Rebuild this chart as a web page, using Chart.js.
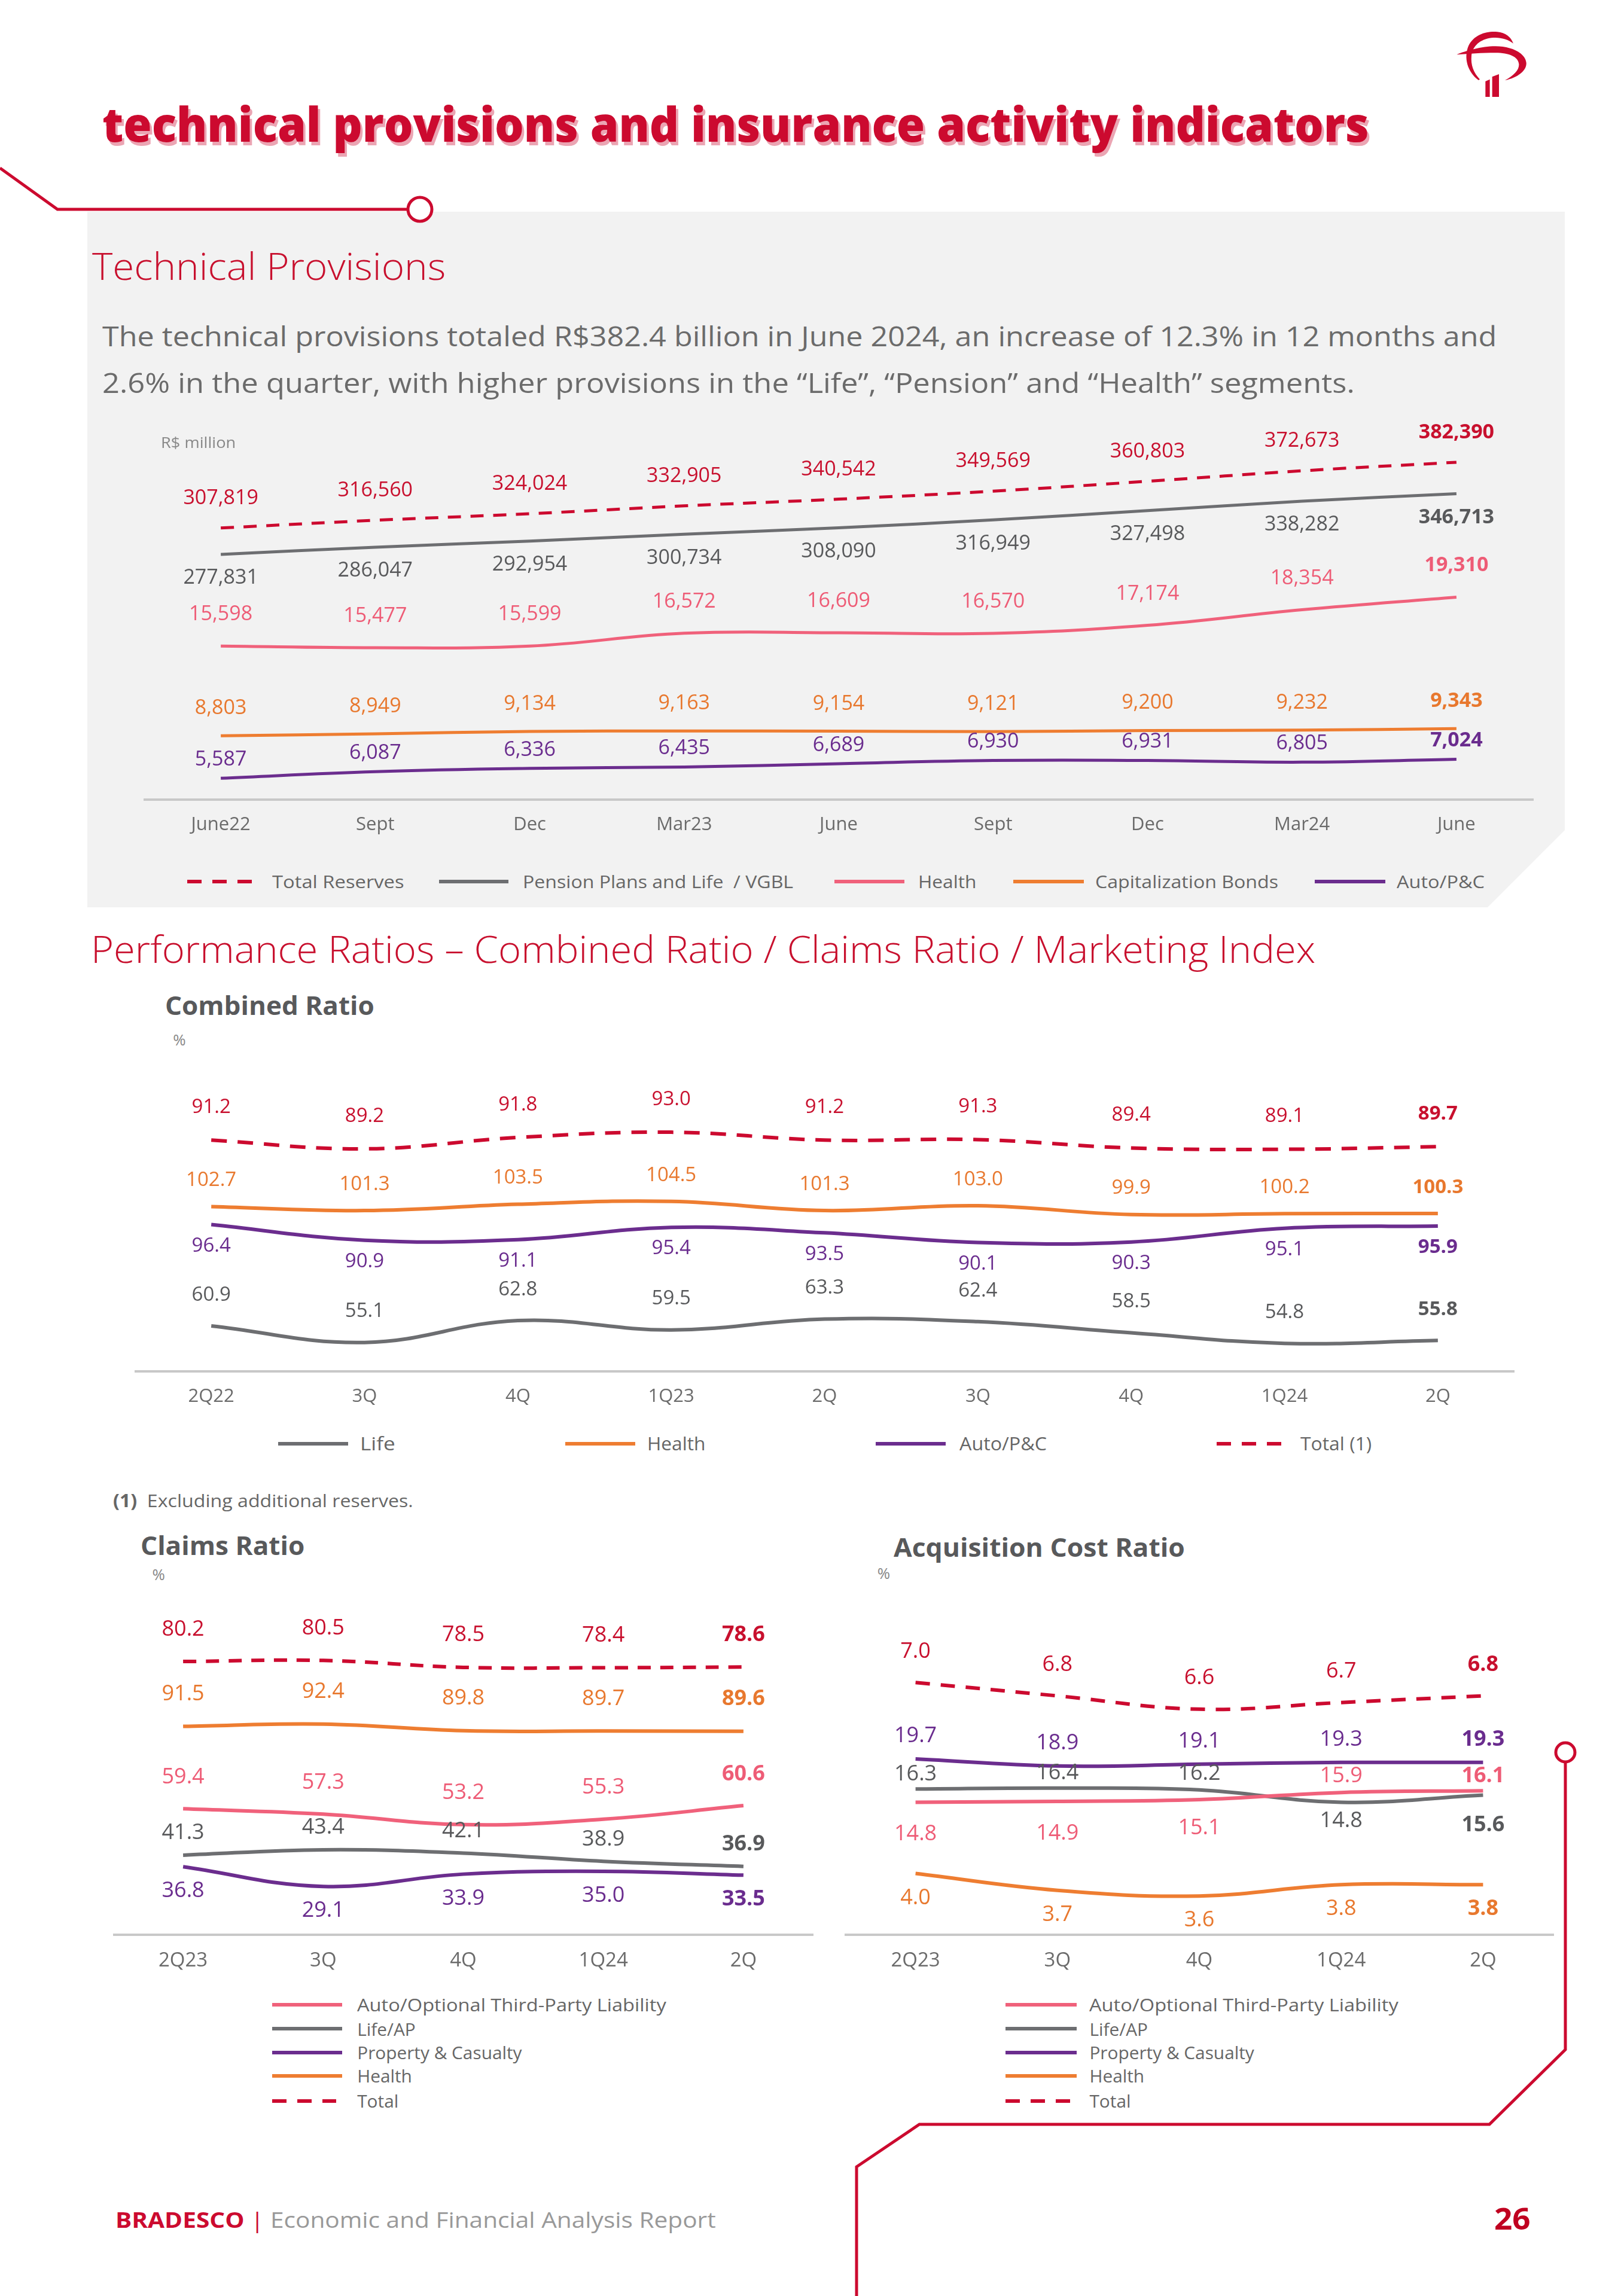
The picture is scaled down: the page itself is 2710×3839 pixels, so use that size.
<!DOCTYPE html>
<html>
<head>
<meta charset="utf-8">
<script src="https://cdn.jsdelivr.net/npm/chart.js@4.4.1/dist/chart.umd.min.js"></script>
<style>
  html, body { margin: 0; padding: 0; }
  body { width: 2710px; height: 3839px; position: relative; background: #fff; overflow: hidden;
         font-family: 'Open Sans', 'Noto Sans', sans-serif; }
  .t { position: absolute; white-space: nowrap; line-height: 1.2; transform-origin: 0 50%; color: #666; }
  canvas { position: absolute; }
  .sw { position: absolute; }
</style>
</head>
<body>
<svg id="deco" width="2710" height="3839" style="position:absolute;left:0;top:0">
  <polygon points="146,354 2616,354 2616,1388 2487,1517 146,1517" fill="#F2F2F2"/>
  <polyline points="0,281 96,350 682,350" fill="none" stroke="#CC0A2F" stroke-width="5"/>
  <circle cx="702" cy="350" r="20" fill="#fff" stroke="#CC0A2F" stroke-width="5"/>
  <polyline points="2617,2946 2617,3427 2490,3552 1537,3552 1432,3623 1432,3845" fill="none" stroke="#CC0A2F" stroke-width="5"/>
  <circle cx="2617" cy="2930" r="16" fill="#fff" stroke="#CC0A2F" stroke-width="5"/>
</svg>
<svg width="200" height="180" viewBox="0 0 600 540" style="position:absolute;left:2400px;top:20px">
  <g fill="#CC0A2F">
    <path d="M215,342 C160,300 140,230 165,170 C195,110 260,95 310,100 C350,104 378,125 390,158 C360,135 320,125 280,130 C225,137 185,170 180,220 C176,265 190,305 222,338 Z"/>
    <path d="M106,214 C150,195 230,172 300,172 C380,172 450,205 455,255 C458,295 410,330 348,343 C395,318 420,290 418,262 C415,225 370,205 300,205 C230,205 170,210 106,214 Z"/>
    <path d="M250,348 L272,338 L272,426 L250,426 Z"/>
    <path d="M284,325 L318,312 L318,426 L284,426 Z"/>
  </g>
</svg>

<canvas id="provChart"></canvas>
<canvas id="combChart"></canvas>
<canvas id="claimsChart"></canvas>
<canvas id="acqChart"></canvas>

<script>
// ---- data ----
const provPeriods = ['June22', 'Sept', 'Dec', 'Mar23', 'June', 'Sept', 'Dec', 'Mar24', 'June'];
const totalReserves = [307819, 316560, 324024, 332905, 340542, 349569, 360803, 372673, 382390];
const pensionLife = [277831, 286047, 292954, 300734, 308090, 316949, 327498, 338282, 346713];
const healthProv = [15598, 15477, 15599, 16572, 16609, 16570, 17174, 18354, 19310];
const capBonds = [8803, 8949, 9134, 9163, 9154, 9121, 9200, 9232, 9343];
const autoProv = [5587, 6087, 6336, 6435, 6689, 6930, 6931, 6805, 7024];

const combQuarters = ['2Q22', '3Q', '4Q', '1Q23', '2Q', '3Q', '4Q', '1Q24', '2Q'];
const combTotal = [91.2, 89.2, 91.8, 93.0, 91.2, 91.3, 89.4, 89.1, 89.7];
const combHealth = [102.7, 101.3, 103.5, 104.5, 101.3, 103.0, 99.9, 100.2, 100.3];
const combAuto = [96.4, 90.9, 91.1, 95.4, 93.5, 90.1, 90.3, 95.1, 95.9];
const combLife = [60.9, 55.1, 62.8, 59.5, 63.3, 62.4, 58.5, 54.8, 55.8];

const ratioQuarters = ['2Q23', '3Q', '4Q', '1Q24', '2Q'];
const claimsTotal = [80.2, 80.5, 78.5, 78.4, 78.6];
const claimsHealth = [91.5, 92.4, 89.8, 89.7, 89.6];
const claimsAuto = [59.4, 57.3, 53.2, 55.3, 60.6];
const claimsLife = [41.3, 43.4, 42.1, 38.9, 36.9];
const claimsPC = [36.8, 29.1, 33.9, 35.0, 33.5];

const acqTotal = [7.0, 6.8, 6.6, 6.7, 6.8];
const acqPC = [19.7, 18.9, 19.1, 19.3, 19.3];
const acqLife = [16.3, 16.4, 16.2, 14.8, 15.6];
const acqAuto = [14.8, 14.9, 15.1, 15.9, 16.1];
const acqHealth = [4.0, 3.7, 3.6, 3.8, 3.8];

// ---- colours ----
const RED = '#CC0A2F', GRAY = '#6D6E71', PINK = '#F0617B', ORANGE = '#EE7D31', PURPLE = '#6B2D8E';
const RED_T = '#C8102E', GRAY_T = '#58595B', PINK_T = '#EE5C76', ORANGE_T = '#E8782E', PURPLE_T = '#6A2C8E';

// layout measurements were taken on a slightly larger grid; K brings them to page pixels
const K = 0.9937;
const AXIS_H = 80 * K;

Chart.defaults.font.family = "'Open Sans', 'Noto Sans', sans-serif";

// value labels drawn next to every point
const valueLabels = {
    id: 'valueLabels',
    afterDatasetsDraw(chart, args, opts) {
        const ctx = chart.ctx;
        chart.data.datasets.forEach((ds, i) => {
            const meta = chart.getDatasetMeta(i);
            ctx.save();
            ctx.fillStyle = ds.labelColor;
            ctx.textAlign = 'center';
            ctx.textBaseline = 'middle';
            meta.data.forEach((pt, j) => {
                const last = j === meta.data.length - 1;
                ctx.font = (last ? '700 ' : '400 ') + opts.size + "px 'Open Sans', sans-serif";
                const off = Array.isArray(ds.labelOffset) ? ds.labelOffset[j] : ds.labelOffset;
                ctx.fillText(opts.format(ds.data[j]), pt.x, pt.y + off * K);
            });
            ctx.restore();
        });
    }
};

function series(label, data, color, axis, labelColor, labelOffset, width, dash) {
    return {
        label, data, yAxisID: axis,
        borderColor: color, borderWidth: width,
        borderDash: dash || [], borderCapStyle: 'butt',
        tension: 0.4, pointRadius: 0, fill: false,
        labelColor, labelOffset
    };
}

function hiddenAxis(min, max) {
    return { display: false, min, max };
}

function xAxis(fontSize) {
    return {
        type: 'category', offset: true,
        grid: { display: false, drawTicks: false },
        border: { display: true, color: '#C8C8C8', width: 4 },
        ticks: { color: '#6B6B6B', font: { size: fontSize }, padding: 24 * K, maxRotation: 0, autoSkip: false },
        afterFit: (scale) => { scale.height = AXIS_H; }
    };
}

// left/right = x-axis extent, top = plot top, bottom = x-axis line (pre-K units)
function makeChart(id, box, labels, datasets, yScales, tickSize, labelSize, format) {
    const cv = document.getElementById(id);
    const w = Math.round((box.right - box.left) * K);
    const h = Math.round((box.bottom - box.top) * K + AXIS_H);
    cv.width = w; cv.height = h;
    cv.style.left = Math.round(box.left * K) + 'px';
    cv.style.top = Math.round(box.top * K) + 'px';
    return new Chart(cv.getContext('2d'), {
        type: 'line',
        data: { labels, datasets },
        options: {
            responsive: false, animation: false, devicePixelRatio: 1,
            layout: { padding: 0 },
            scales: Object.assign({ x: xAxis(tickSize) }, yScales),
            plugins: {
                legend: { display: false },
                tooltip: { enabled: false },
                valueLabels: { size: labelSize, format }
            }
        },
        plugins: [valueLabels]
    });
}

const fmtInt = v => v.toLocaleString('en-US');
const fmt1 = v => v.toFixed(1);

// Technical provisions: large and small series on two scales
makeChart('provChart', { left: 242, right: 2581, top: 694.4, bottom: 1345.5 }, provPeriods, [
    series('Total Reserves', totalReserves, RED, 'yBig', RED_T, -50, 5, [22, 16]),
    series('Pension Plans and Life / VGBL', pensionLife, GRAY, 'yBig', GRAY_T, 40, 5),
    series('Health', healthProv, PINK, 'ySmall', PINK_T, -53, 5),
    series('Capitalization Bonds', capBonds, ORANGE, 'ySmall', ORANGE_T, -46, 5),
    series('Auto/P&C', autoProv, PURPLE, 'ySmall', PURPLE_T, -31, 5)
], { yBig: hiddenAxis(0, 438644), ySmall: hiddenAxis(3988, 33291) }, 31, 34, fmtInt);

// Combined ratio
makeChart('combChart', { left: 226, right: 2548, top: 1801.3, bottom: 2306.5 }, combQuarters, [
    series('Life', combLife, GRAY, 'ySeg', GRAY_T, -52, 6),
    series('Health', combHealth, ORANGE, 'ySeg', ORANGE_T, -44, 6),
    series('Auto/P&C', combAuto, PURPLE, 'ySeg', PURPLE_T, 36, 6),
    series('Total (1)', combTotal, RED, 'yTot', RED_T, -55, 6, [26, 18])
], { ySeg: hiddenAxis(45.09, 150.33), yTot: hiddenAxis(38.42, 107.09) }, 31, 33, fmt1);

// Claims ratio
makeChart('claimsChart', { left: 190, right: 1368, top: 2707, bottom: 3254.5 }, ratioQuarters, [
    series('Auto/Optional Third-Party Liability', claimsAuto, PINK, 'ySeg', PINK_T, -53, 6),
    series('Life/AP', claimsLife, GRAY, 'ySeg', GRAY_T, -37, 6),
    series('Property & Casualty', claimsPC, PURPLE, 'ySeg', PURPLE_T, 41, 6),
    series('Health', claimsHealth, ORANGE, 'ySeg', ORANGE_T, -54, 6),
    series('Total', claimsTotal, RED, 'yTot', RED_T, -54, 6, [22, 16])
], { ySeg: hiddenAxis(10.38, 137.33), yTot: hiddenAxis(1.03, 95.48) }, 33, 36, fmt1);

// Acquisition cost ratio
makeChart('acqChart', { left: 1421, right: 2615, top: 2707, bottom: 3254.5 }, ratioQuarters, [
    series('Auto/Optional Third-Party Liability', acqAuto, PINK, 'ySeg', PINK_T, [54, 54, 48, -28, -25], 6),
    series('Life/AP', acqLife, GRAY, 'ySeg', GRAY_T, [-25, -25, -27, 32, 50], 6),
    series('Property & Casualty', acqPC, PURPLE, 'ySeg', PURPLE_T, -38, 6),
    series('Health', acqHealth, ORANGE, 'yHea', ORANGE_T, 41, 6),
    series('Total', acqTotal, RED, 'yTot', RED_T, -52, 6, [24, 18])
], { ySeg: hiddenAxis(-0.14, 36.66), yTot: hiddenAxis(3.225, 8.104), yHea: hiddenAxis(2.916, 8.703) }, 33, 36, fmt1);

// ---- page text ----
function addText(html, x, cy, size, opts) {
    opts = opts || {};
    const s = size * K;
    const d = document.createElement('div');
    d.className = 't';
    d.innerHTML = html;
    d.style.left = (x * K) + 'px';
    d.style.top = (cy * K - 0.6 * s) + 'px';
    d.style.fontSize = s + 'px';
    if (opts.color) d.style.color = opts.color;
    if (opts.weight) d.style.fontWeight = opts.weight;
    if (opts.shadow) d.style.textShadow = opts.shadow;
    if (opts.w) d.dataset.w = opts.w * K;
    document.body.appendChild(d);
}

function addSwatch(x1, x2, cy, color, dashed) {
    const d = document.createElement('div');
    d.className = 'sw';
    d.style.left = (x1 * K) + 'px';
    d.style.top = (cy * K - 3) + 'px';
    d.style.height = '6px';
    d.style.width = ((x2 - x1) * K) + 'px';
    d.style.background = dashed
        ? 'repeating-linear-gradient(90deg, ' + color + ' 0 24px, transparent 24px 42px)'
        : color;
    document.body.appendChild(d);
}

addText('technical provisions and insurance activity indicators', 172, 208, 80,
    { color: RED, weight: 800, shadow: '4px 6px 0 #EBA5B3', w: 2131 });
addText('Technical Provisions', 155, 446, 63, { color: RED_T, weight: 300, w: 595 });
addText('The technical provisions totaled R$382.4 billion in June 2024, an increase of 12.3% in 12 months and',
    172, 565, 46, { color: '#6B6B6B', w: 2346 });
addText('2.6% in the quarter, with higher provisions in the \u201cLife\u201d, \u201cPension\u201d and \u201cHealth\u201d segments.',
    172, 643, 46, { color: '#6B6B6B', w: 2107 });
addText('R$ million', 271, 744, 26, { color: '#888', w: 126 });

addText('Performance Ratios \u2013 Combined Ratio / Claims Ratio / Marketing Index', 153, 1596, 63,
    { color: RED_T, weight: 300, w: 2060 });
addText('Combined Ratio', 278, 1691, 44, { color: GRAY_T, weight: 700, w: 352 });
addText('%', 291, 1750, 26, { color: '#888' });
addText('<b>(1)</b>&nbsp; Excluding additional reserves.', 190, 2525, 30, { color: '#666', w: 505 });
addText('Claims Ratio', 236, 2600, 44, { color: GRAY_T, weight: 700, w: 276 });
addText('%', 256, 2649, 26, { color: '#888' });
addText('Acquisition Cost Ratio', 1503, 2603, 44, { color: GRAY_T, weight: 700, w: 490 });
addText('%', 1476, 2647, 26, { color: '#888' });

addText('<span style="color:' + RED + ';font-weight:700">BRADESCO</span><span style="color:' + RED +
    '"> | </span><span style="color:#999">Economic and Financial Analysis Report</span>', 194, 3735, 36, { w: 1010 });
addText('26', 2514, 3733, 50, { color: '#C00020', weight: 700, w: 61 });

// legends
const provLegend = [
    [315, 424, 458, 'Total Reserves', RED, true, 222],
    [739, 855, 880, 'Pension Plans and Life &nbsp;/ VGBL', GRAY, false, 455],
    [1404, 1522, 1545, 'Health', PINK, false, 98],
    [1705, 1823, 1843, 'Capitalization Bonds', ORANGE, false, 308],
    [2212, 2331, 2350, 'Auto/P&amp;C', PURPLE, false, 148]
];
provLegend.forEach(l => { addSwatch(l[0], l[1], 1483, l[4], l[5]); addText(l[3], l[2], 1483, 30, { color: '#666', w: l[6] }); });

const combLegend = [
    [468, 586, 606, 'Life', GRAY, false, 59],
    [951, 1069, 1089, 'Health', ORANGE, false, 98],
    [1473, 1591, 1614, 'Auto/P&amp;C', PURPLE, false, 147],
    [2047, 2156, 2188, 'Total (1)', RED, true, 120]
];
combLegend.forEach(l => { addSwatch(l[0], l[1], 2429, l[4], l[5]); addText(l[3], l[2], 2429, 31, { color: '#666', w: l[6] }); });

const ratioLegend = [
    ['Auto/Optional Third-Party Liability', PINK, false, 520],
    ['Life/AP', GRAY, false, 0],
    ['Property &amp; Casualty', PURPLE, false, 0],
    ['Health', ORANGE, false, 0],
    ['Total', RED, true, 0]
];
const legendRows = [3373, 3414, 3454, 3493, 3535];
[[458, 576, 601], [1692, 1811, 1833]].forEach(pos => {
    ratioLegend.forEach((l, i) => {
        addSwatch(pos[0], l[2] ? pos[0] + 108 : pos[1], legendRows[i], l[1], l[2]);
        addText(l[0], pos[2], legendRows[i], 30, { color: '#666', w: l[3] || undefined });
    });
});

function fit() {
    document.querySelectorAll('[data-w]').forEach(el => {
        el.style.transform = 'none';
        const w = el.getBoundingClientRect().width;
        if (w > 0) el.style.transform = 'scaleX(' + (+el.dataset.w / w) + ')';
    });
}
fit();
if (document.fonts) document.fonts.ready.then(fit);
</script>
</body>
</html>
